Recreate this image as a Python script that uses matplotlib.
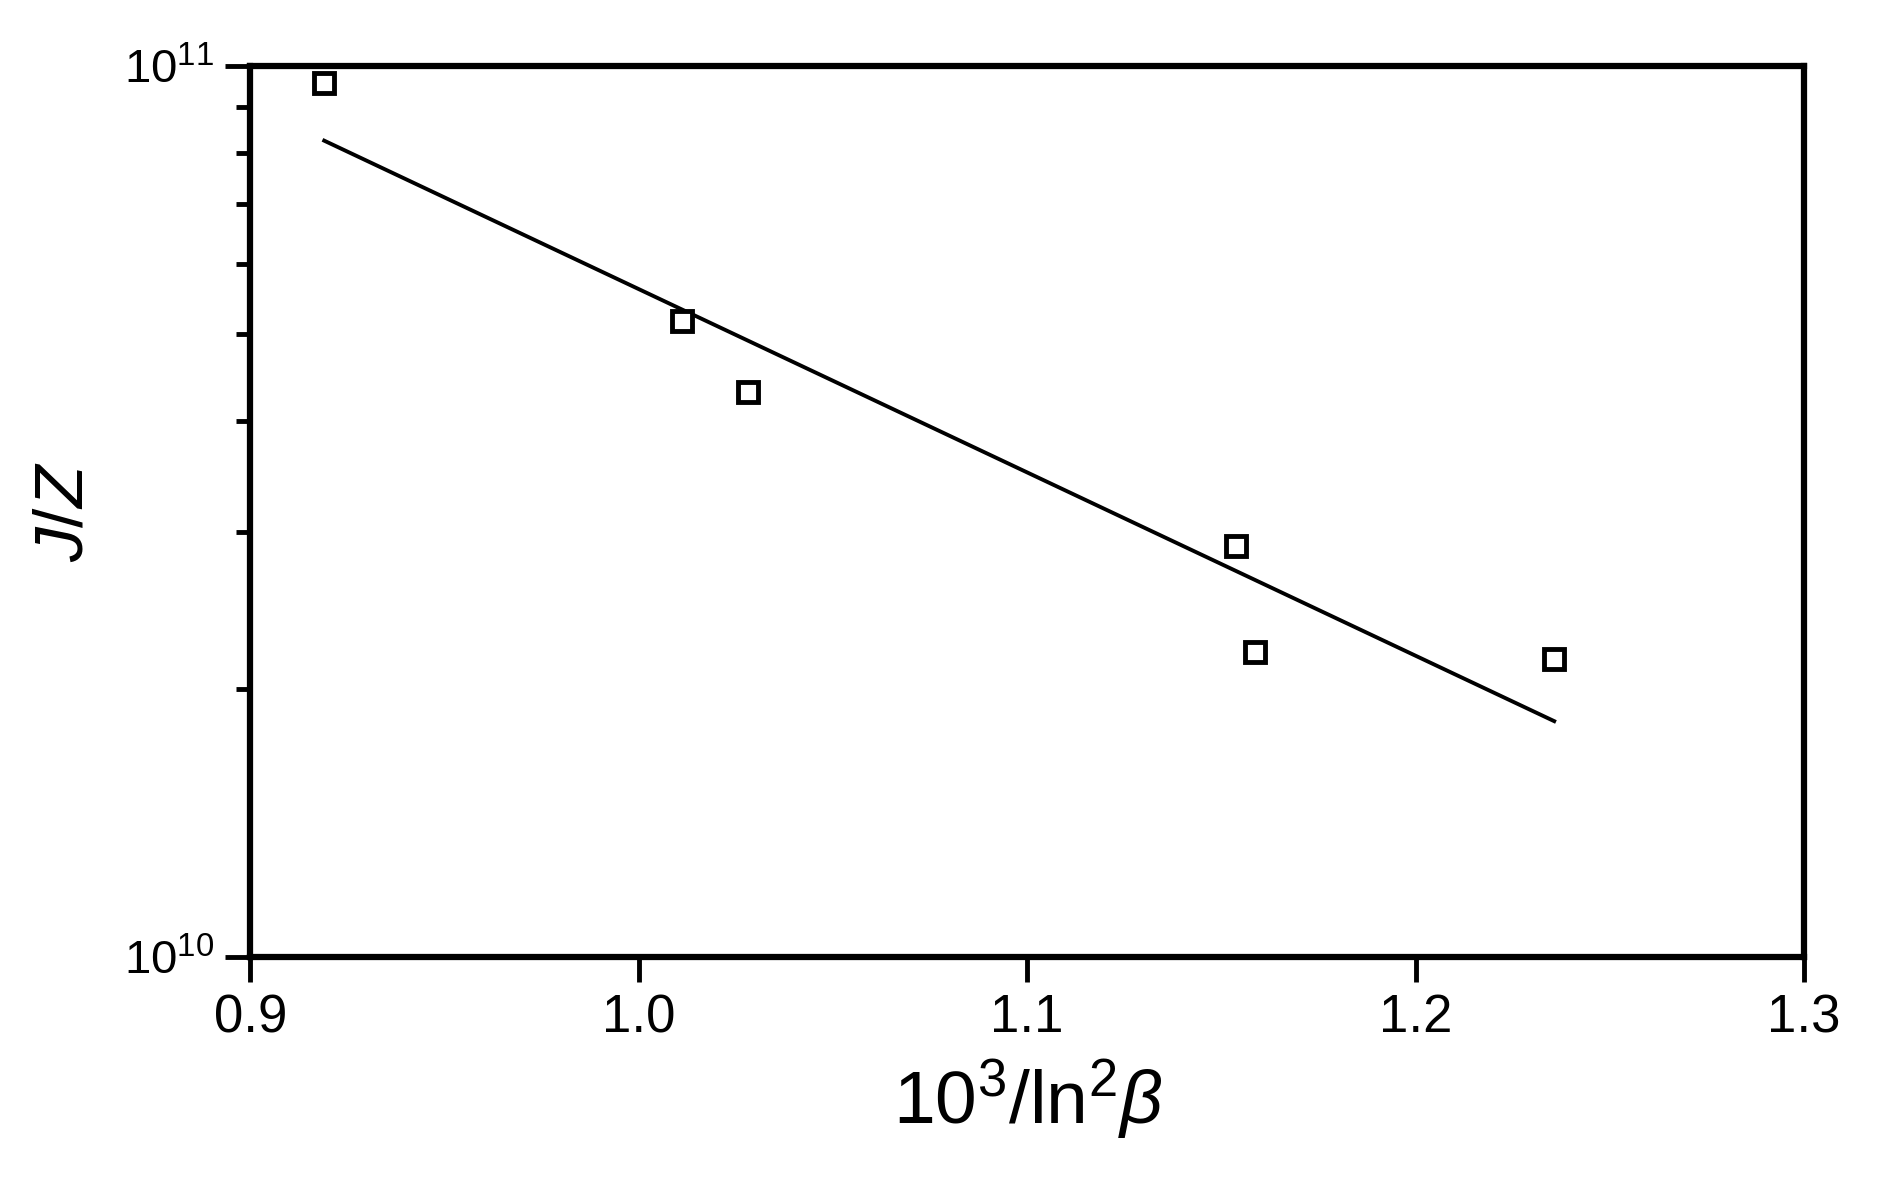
import numpy as np
import matplotlib.pyplot as plt
from matplotlib.ticker import LogLocator, NullFormatter

plt.rcParams['font.family'] = ['Liberation Sans', 'DejaVu Sans']
plt.rcParams['mathtext.fontset'] = 'custom'
plt.rcParams['mathtext.rm'] = 'Liberation Sans'
plt.rcParams['mathtext.it'] = 'Liberation Sans:italic'

# data
x_pts = [0.919, 1.011, 1.028, 1.1537, 1.1587, 1.2357]
y_pts = [9.57e10, 5.18e10, 4.31e10, 2.89e10, 2.20e10, 2.16e10]
x_fit = [0.919, 1.2357]
y_fit = [8.25e10, 1.84e10]

fig = plt.figure(figsize=(18.83, 11.83), dpi=100)
ax = fig.add_axes([0.133, 0.191, 0.825, 0.753])

ax.plot(x_fit, y_fit, color="black", lw=2.8)
ax.plot(x_pts, y_pts, ls="none", marker="s", ms=15, mfc="white", mec="black", mew=3.5)

ax.set_yscale("log")
ax.set_xlim(0.9, 1.3)
ax.set_ylim(1e10, 1e11)
ax.set_xticks([0.9, 1.0, 1.1, 1.2, 1.3])
ax.set_xticklabels(["0.9", "1.0", "1.1", "1.2", "1.3"])
ax.yaxis.set_major_locator(LogLocator(base=10))
ax.yaxis.set_minor_locator(LogLocator(base=10, subs=np.arange(2, 10)))
ax.yaxis.set_minor_formatter(NullFormatter())
ax.set_yticks([1e10, 1e11])
ax.set_yticklabels([r"$\mathregular{10^{10}}$", r"$\mathregular{10^{11}}$"])

for s in ax.spines.values():
    s.set_linewidth(4.5)
ax.tick_params(which="major", direction="out", length=18, width=3.5, labelsize=38, pad=8)
ax.tick_params(which="minor", direction="out", length=10, width=3.5)
ax.tick_params(axis="y", which="major", labelsize=34)

ax.set_xlabel(r"10$^3$/ln$^2$$\beta$", fontsize=54, labelpad=10)
ax.set_ylabel(r"$J$/$Z$", fontsize=50, labelpad=20)

fig.savefig("out.png", dpi=100)
